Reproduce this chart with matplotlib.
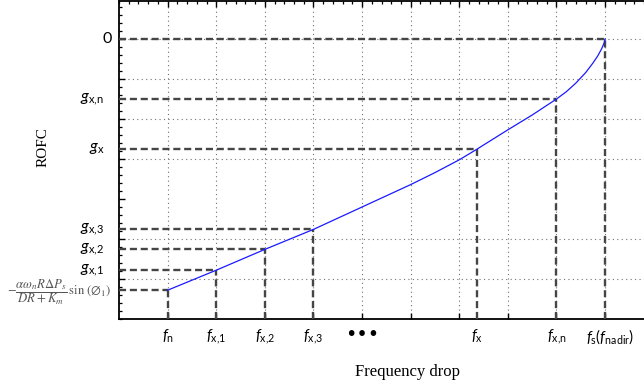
import matplotlib
matplotlib.use('Agg')
import matplotlib.pyplot as plt

plt.rcParams['mathtext.fontset'] = 'custom'
plt.rcParams['mathtext.rm'] = 'Lato'
plt.rcParams['mathtext.it'] = 'Lato:italic'
plt.rcParams['font.family'] = ['Lato', 'DejaVu Sans']

# curve ROFC vs frequency drop (grid units)
curva_x = [1.0, 1.5, 2.0, 2.5, 3.0, 3.5, 4.0, 4.5, 5.0, 5.5, 6.0, 6.5, 7.0, 7.37, 7.5,
           8.0, 8.5, 9.0, 9.2, 9.4, 9.6, 9.75, 9.85, 9.93, 9.98, 10.0]
curva_y = [0.72, 0.97, 1.22, 1.48, 1.74, 1.99, 2.24, 2.52, 2.80, 3.08, 3.36, 3.66, 3.98, 4.25, 4.35,
           4.73, 5.10, 5.50, 5.68, 5.90, 6.16, 6.40, 6.58, 6.76, 6.90, 7.0]

# punti marcati
punti_f = [1, 2, 3, 4, 7.37, 9, 10]
punti_g = [0.72, 1.22, 1.74, 2.24, 4.25, 5.5, 7.0]

etich_f = [r'$f_{\mathrm{n}}$', r'$f_{\mathrm{x{,}1}}$', r'$f_{\mathrm{x{,}2}}$', r'$f_{\mathrm{x{,}3}}$',
           r'$f_{\mathrm{x}}$', r'$f_{\mathrm{x{,}n}}$']
pos_f = [1, 2, 3, 4, 7.37, 9]
etich_g = [r'$g_{\mathrm{x{,}1}}$', r'$g_{\mathrm{x{,}2}}$', r'$g_{\mathrm{x{,}3}}$',
           r'$g_{\mathrm{x}}$', r'$g_{\mathrm{x{,}n}}$']
pos_g = [1.22, 1.74, 2.24, 4.25, 5.5]

fig = plt.figure(figsize=(6.44, 3.87), dpi=100)
ax = fig.add_axes([119/644, 68/387, 525/644, 318/387])
ax.set_xlim(0, 10.8)
ax.set_ylim(0, 7.95)

ax.vlines(punti_f, 0, punti_g, colors='#454545', linewidth=1.7, linestyles=(0, (3, 1.6)), zorder=3)
ax.hlines(punti_g, 0, punti_f, colors='#454545', linewidth=1.7, linestyles=(0, (3, 1.6)), zorder=3)
ax.plot(curva_x, curva_y, color='#1a1aff', linewidth=0.9, zorder=4)

ax.set_xticks(range(1, 11))
ax.set_yticks(range(1, 8))
ax.set_yticks([i * 0.2 for i in range(40)], minor=True)
ax.set_xticks([i * 0.2 for i in range(55)], minor=True)
ax.tick_params(which='both', direction='in', labelleft=False, labelbottom=False,
               top=True, left=True, bottom=True, right=False)
ax.tick_params(which='major', length=4, width=1)
ax.tick_params(which='minor', length=2.5, width=0.9, bottom=False)
ax.grid(True, which='major', color='#707070', linestyle=(0, (1, 3)), linewidth=0.8)
# la linea di griglia a y=3 non compare nell'originale
for gl, v in zip(ax.yaxis.get_gridlines(), ax.get_yticks()):
    if v == 3:
        gl.set_visible(False)
for s in ['left', 'bottom', 'top']:
    ax.spines[s].set_linewidth(1.3)
ax.spines['right'].set_visible(False)

tx = ax.get_xaxis_transform()
ty = ax.get_yaxis_transform()
for lab, x in zip(etich_f, pos_f):
    ax.text(x, -0.055, lab, transform=tx, ha='center', va='center', fontsize=11)
ax.text(5, -0.05, '•••', transform=tx, ha='center', va='center', fontsize=14, family='DejaVu Sans')
ax.text(9.6, -0.055, r'$f_{\mathrm{s}}$($f_{\mathrm{nadir}}$)', transform=tx, ha='left', va='center', fontsize=11)

for lab, y in zip(etich_g, pos_g):
    ax.text(-0.028, y, lab, transform=ty, ha='right', va='center', fontsize=11.5)
ax.text(-0.013, 7.0, '0', transform=ty, ha='right', va='center', fontsize=11.5)
ax.text(-0.015, 0.66, r'$-\dfrac{\alpha\omega_n R\Delta P_s}{DR+K_m}\,\sin\,(\emptyset_1)$',
        transform=ty, ha='right', va='center', fontsize=9.2, color='#555555', math_fontfamily='stix')

ax.text(-0.145, 0.54, 'ROFC', transform=ax.transAxes, rotation=90, ha='center', va='center',
        fontsize=11, family='Liberation Serif')
ax.text(0.549, -0.167, 'Frequency drop', transform=ax.transAxes, ha='center', va='center',
        fontsize=12, family='Liberation Serif')

fig.savefig('out.png', dpi=100)
